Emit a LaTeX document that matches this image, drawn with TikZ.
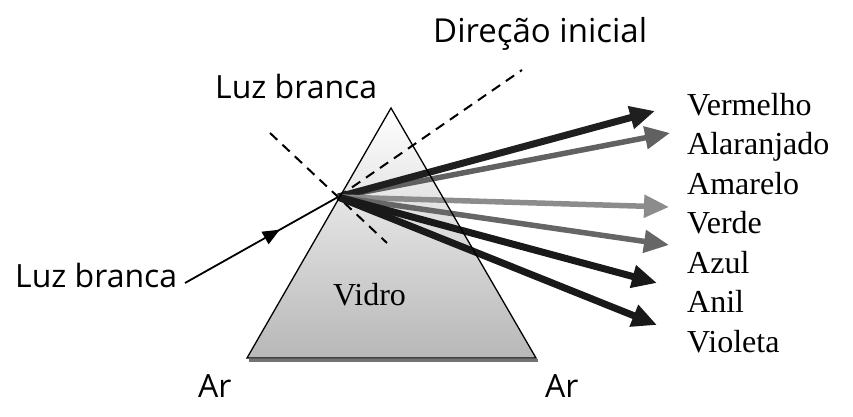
\documentclass[tikz,border=0pt]{standalone}
\usepackage{fontspec}
\setmainfont{Liberation Serif}
\newfontfamily\labelfont{Open Sans}
\usetikzlibrary{arrows.meta,decorations.markings}

\tikzset{
  sans/.style={font=\labelfont\fontsize{32}{37}\selectfont, inner sep=0pt, anchor=base west},
  serif/.style={font=\fontsize{32}{38}\selectfont, inner sep=0pt, anchor=base west},
  cor/.style={font=\fontsize{32}{38}\selectfont, inner sep=0pt, text width=165pt,
    align=left, text height=22pt, text depth=8pt},
  ray/.style={line width=7pt, -{Triangle[length=25pt,width=22pt]}},
  thinray/.style={line width=5.5pt, -{Triangle[length=25pt,width=22pt]}},
  guide/.style={line width=2pt, dash pattern=on 10pt off 7pt},
  beam/.style={line width=1.8pt, postaction={decorate},
    decoration={markings, mark=at position 0.62 with {\arrow{Triangle[length=17pt,width=14pt]}}}}
}

\begin{document}
\begin{tikzpicture}[x=1pt, y=-1pt, node distance=39.5pt]
\useasboundingbox (0,0) rectangle (853,417);

% prism
\coordinate (A) at (391,108);
\coordinate (B) at (247,358);
\coordinate (C) at (536,358);
\draw[line width=3.5pt, black!55] (249,360.5) -- (538,360.5);
\shade[top color=white, middle color=black!3, bottom color=black!28] (A) -- (B) -- (C) -- cycle;

% entry point and free ends
\coordinate (P) at (338,197);
\coordinate (S) at (185,283);
\coordinate (N1) at (270,133);
\coordinate (N2) at (387,243);
\coordinate (D) at (522,70);
\coordinate (t1) at (655,111);
\coordinate (t2) at (670,133);
\coordinate (t3) at (669,207);
\coordinate (t4) at (669,245);
\coordinate (t5) at (657,283);
\coordinate (t6) at (657,325);

\draw[guide] (N1) -- (N2);
\draw[guide] (P) -- (D);

\draw[thinray, black!62] (P) -- (t2);
\draw[ray, black!88] (P) -- (t1);
\draw[thinray, black!45] (P) -- (t3);
\draw[thinray, black!60] (P) -- (t4);
\draw[ray, black!90] (P) -- (t5);
\draw[ray, black!90] (P) -- (t6);

\draw[line width=1.3pt, line join=miter] (A) -- (B) -- (C) -- cycle;
\draw[beam] (S) -- (P);

% labels
\node (dir) [sans, font=\labelfont\fontsize{33}{38}\selectfont] at (433,43) {Direção inicial};
\node (luzTop) [sans] at (215,99) {Luz branca};
\node (luzLeft) [sans] at (15,287) {Luz branca};
\node (arL) [sans] at (198,397) {Ar};
\node (arR) [sans] at (545,397) {Ar};
\node (vidro) [serif] at (333,305) {Vidro};

\node (verm) [cor, anchor=west] at (687,108) {Vermelho};
\node (alar) [below of=verm, cor] {Alaranjado};
\node (amar) [below of=alar, cor] {Amarelo};
\node (verd) [below of=amar, cor] {Verde};
\node (azul) [below of=verd, cor] {Azul};
\node (anil) [below of=azul, cor] {Anil};
\node (viol) [below of=anil, cor] {Violeta};
\end{tikzpicture}
\end{document}
